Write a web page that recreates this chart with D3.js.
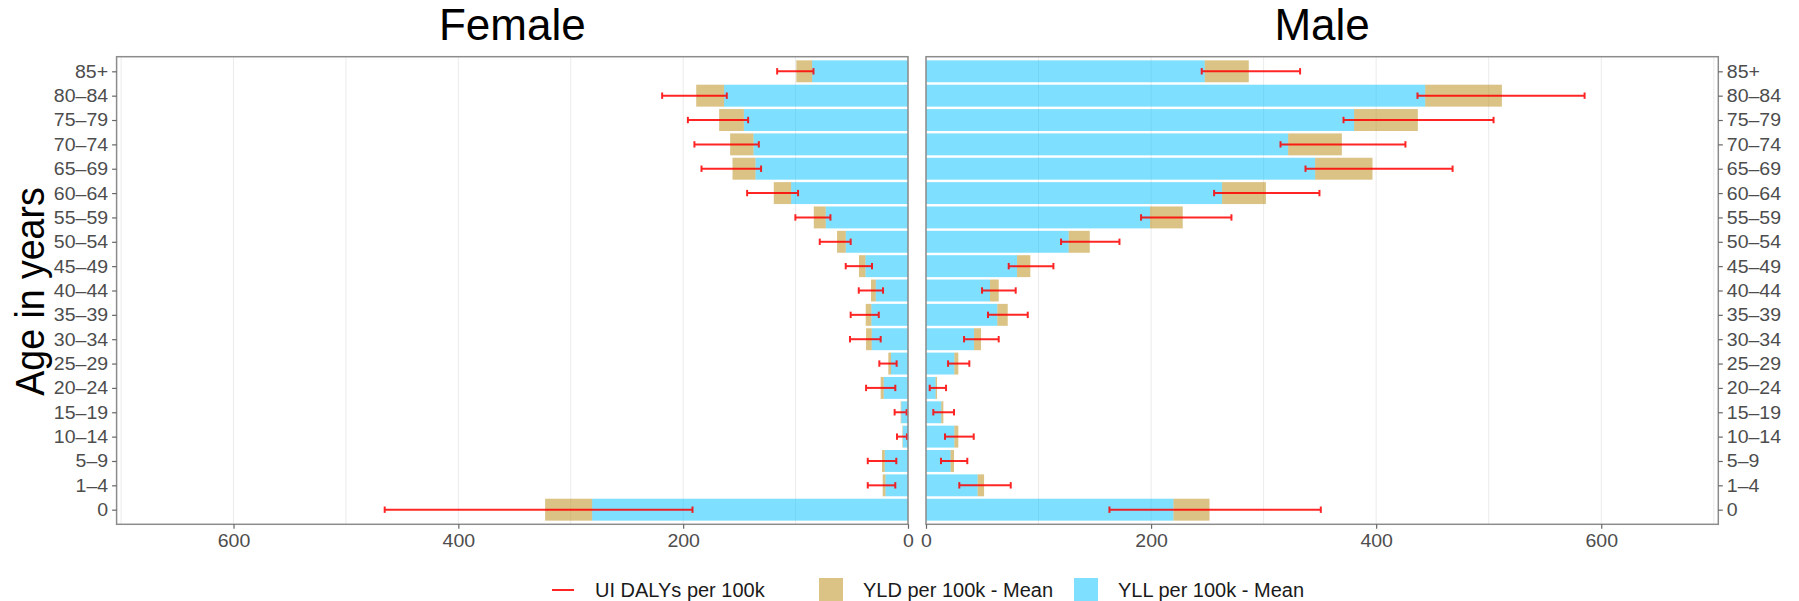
<!DOCTYPE html>
<html>
<head>
<meta charset="utf-8">
<script src="https://cdn.jsdelivr.net/npm/d3@7"></script>
<style>
  html, body { margin: 0; padding: 0; background: #fff; }
  svg { display: block; }
  text { font-family: "Liberation Sans", Arial, Helvetica, sans-serif; }
</style>
</head>
<body>
<svg id="chart" width="1799" height="601"></svg>
<script>
// Age groups, top to bottom
const ageGroups = ["85+", "80\u201384", "75\u201379", "70\u201374", "65\u201369", "60\u201364", "55\u201359",
  "50\u201354", "45\u201349", "40\u201344", "35\u201339", "30\u201334", "25\u201329", "20\u201324",
  "15\u201319", "10\u201314", "5\u20139", "1\u20134", "0"];

// Female, per 100k
const femaleYLL = [85.3, 163.6, 146.0, 137.5, 135.7, 104.0, 73.2, 55.4, 37.9, 28.7, 32.6, 32.3, 15.1, 21.6, 6.0, 4.6, 20.7, 20.1, 281.0];
const femaleYLD = [14.0, 24.8, 22.0, 20.7, 20.4, 15.4, 10.6, 7.7, 5.7, 4.2, 5.0, 5.0, 2.4, 2.7, 0.5, 0.4, 2.4, 2.4, 41.8];
const femaleUILow = [84.1, 161.2, 142.2, 132.7, 130.7, 97.8, 69.0, 51.0, 32.0, 22.2, 26.0, 24.3, 10.1, 11.3, 1.2, 0.9, 10.4, 11.3, 191.7];
const femaleUIHigh = [116.4, 218.7, 195.8, 190.0, 183.7, 143.1, 100.2, 78.5, 55.4, 43.8, 51.0, 51.6, 25.5, 37.3, 11.9, 9.8, 35.8, 35.8, 465.5];

// Male, per 100k
const maleYLL = [247.7, 443.6, 380.4, 321.8, 345.8, 263.1, 199.1, 126.8, 80.9, 56.9, 63.4, 42.7, 25.2, 8.6, 13.6, 25.2, 21.9, 45.9, 219.9];
const maleYLD = [39.1, 68.1, 56.6, 47.7, 50.9, 38.9, 29.0, 18.7, 11.8, 7.7, 9.2, 6.2, 3.5, 1.2, 1.8, 3.5, 3.0, 5.7, 32.0];
const maleUILow = [245.0, 436.7, 371.0, 315.0, 337.2, 256.0, 191.1, 120.0, 73.5, 49.8, 55.1, 33.8, 19.6, 3.3, 6.5, 16.9, 13.3, 29.6, 163.0];
const maleUIHigh = [332.4, 585.2, 504.3, 426.0, 467.9, 349.6, 271.4, 171.9, 113.2, 79.7, 90.4, 64.6, 38.5, 17.8, 24.9, 42.4, 36.7, 75.3, 350.8];

const xTicks = [0, 200, 400, 600];
const xGrid = [0, 100, 200, 300, 400, 500, 600, 700];
const xMax = 704;

const legendLabels = ["UI DALYs per 100k", "YLD per 100k - Mean", "YLL per 100k - Mean"];

const COL_YLL = "#00BFFF";
const COL_YLD = "#B8860B";
const COL_UI = "#FF0000";
const COL_TEXT = "#4D4D4D";
const COL_BORDER = "#8C8C8C";
const COL_GRID = "#EBEBEB";

// tick labels are drawn slightly wide
const TICK_FONT = 18.5, TICK_STRETCH = 1.055;

const svg = d3.select("#chart");

const panelTop = 56.7, panelBottom = 524.3;
const y = d3.scalePoint().domain(ageGroups).range([panelTop, panelBottom]).padding(0.6);
const barH = y.step() * 0.9;

const panels = [
  { title: "Female", yll: femaleYLL, yld: femaleYLD, lo: femaleUILow, hi: femaleUIHigh,
    x: d3.scaleLinear().domain([0, xMax]).range([908, 116.6]), side: "left" },
  { title: "Male", yll: maleYLL, yld: maleYLD, lo: maleUILow, hi: maleUIHigh,
    x: d3.scaleLinear().domain([0, xMax]).range([926, 1718.3]), side: "right" }
];

function styleTickText(sel) {
  sel.attr("fill", COL_TEXT)
    .style("font-size", TICK_FONT + "px")
    .style("font-family", "'Liberation Sans', Arial, sans-serif")
    .each(function () {
      const t = d3.select(this);
      const x0 = +t.attr("x") || 0;
      t.attr("x", x0 / TICK_STRETCH).attr("transform", `scale(${TICK_STRETCH},1)`);
    });
}

panels.forEach(p => {
  const [r0, r1] = p.x.range();
  const xl = Math.min(r0, r1), xr = Math.max(r0, r1);
  const g = svg.append("g");

  // vertical grid
  g.selectAll("line.grid").data(xGrid).join("line")
    .attr("x1", d => p.x(d)).attr("x2", d => p.x(d))
    .attr("y1", panelTop).attr("y2", panelBottom)
    .attr("stroke", COL_GRID).attr("stroke-width", 1);

  const rows = ageGroups.map((a, i) => ({ age: a, yll: p.yll[i], yld: p.yld[i], lo: p.lo[i], hi: p.hi[i] }));

  // YLL segment
  g.selectAll("rect.yll").data(rows).join("rect")
    .attr("x", d => Math.min(p.x(0), p.x(d.yll)))
    .attr("width", d => Math.abs(p.x(d.yll) - p.x(0)))
    .attr("y", d => y(d.age) - barH / 2).attr("height", barH)
    .attr("fill", COL_YLL).attr("fill-opacity", 0.5);

  // YLD segment stacked on YLL
  g.selectAll("rect.yld").data(rows).join("rect")
    .attr("x", d => Math.min(p.x(d.yll), p.x(d.yll + d.yld)))
    .attr("width", d => Math.abs(p.x(d.yll + d.yld) - p.x(d.yll)))
    .attr("y", d => y(d.age) - barH / 2).attr("height", barH)
    .attr("fill", COL_YLD).attr("fill-opacity", 0.5);

  // uncertainty intervals
  const eb = g.selectAll("g.ui").data(rows).join("g").attr("opacity", 0.85);
  eb.append("line")
    .attr("x1", d => p.x(d.lo)).attr("x2", d => p.x(d.hi))
    .attr("y1", d => y(d.age)).attr("y2", d => y(d.age))
    .attr("stroke", COL_UI).attr("stroke-width", 2);
  eb.append("line")
    .attr("x1", d => p.x(d.lo)).attr("x2", d => p.x(d.lo))
    .attr("y1", d => y(d.age) - 3.2).attr("y2", d => y(d.age) + 3.2)
    .attr("stroke", COL_UI).attr("stroke-width", 2);
  eb.append("line")
    .attr("x1", d => p.x(d.hi)).attr("x2", d => p.x(d.hi))
    .attr("y1", d => y(d.age) - 3.2).attr("y2", d => y(d.age) + 3.2)
    .attr("stroke", COL_UI).attr("stroke-width", 2);

  // panel border
  g.append("rect").attr("x", xl).attr("y", panelTop).attr("width", xr - xl).attr("height", panelBottom - panelTop)
    .attr("fill", "none").attr("stroke", COL_BORDER).attr("stroke-width", 1.5);

  // x axis
  const xAxis = d3.axisBottom(p.x).tickValues(xTicks).tickSize(4.5).tickPadding(5);
  const ax = g.append("g").attr("transform", `translate(0,${panelBottom})`).call(xAxis);
  ax.select(".domain").remove();
  ax.selectAll(".tick line").attr("stroke", "#666").attr("stroke-width", 1.2);
  ax.selectAll(".tick text").call(styleTickText);

  // y axis
  const yAxis = (p.side === "left" ? d3.axisLeft(y) : d3.axisRight(y)).tickSize(4.5).tickPadding(4);
  const ay = g.append("g").attr("transform", `translate(${p.side === "left" ? xl : xr},0)`).call(yAxis);
  ay.select(".domain").remove();
  ay.selectAll(".tick line").attr("stroke", "#666").attr("stroke-width", 1.2);
  ay.selectAll(".tick text").call(styleTickText);

  // panel title
  svg.append("text").attr("x", (xl + xr) / 2).attr("y", 39.5)
    .attr("text-anchor", "middle").style("font-size", "44px").attr("fill", "#000")
    .text(p.title);
});

// y axis title
svg.append("text")
  .attr("transform", `translate(44,${(panelTop + panelBottom) / 2 + 1}) scale(1.1,1) rotate(-90)`)
  .attr("text-anchor", "middle").style("font-size", "37.5px").attr("fill", "#000")
  .text("Age in years");

// legend
const lg = svg.append("g");
const legY = 590;
// UI line key
lg.append("line").attr("x1", 552).attr("x2", 574).attr("y1", legY).attr("y2", legY)
  .attr("stroke", COL_UI).attr("stroke-width", 2).attr("opacity", 0.85);
lg.append("text").attr("x", 595).attr("y", 597).style("font-size", "20px").attr("fill", "#1a1a1a").text(legendLabels[0]);
// YLD key
lg.append("rect").attr("x", 819).attr("y", legY - 12).attr("width", 24).attr("height", 24)
  .attr("fill", COL_YLD).attr("fill-opacity", 0.5);
lg.append("text").attr("x", 863).attr("y", 597).style("font-size", "20px").attr("fill", "#1a1a1a").text(legendLabels[1]);
// YLL key
lg.append("rect").attr("x", 1074).attr("y", legY - 12).attr("width", 24).attr("height", 24)
  .attr("fill", COL_YLL).attr("fill-opacity", 0.5);
lg.append("text").attr("x", 1118).attr("y", 597).style("font-size", "20px").attr("fill", "#1a1a1a").text(legendLabels[2]);
</script>
</body>
</html>
